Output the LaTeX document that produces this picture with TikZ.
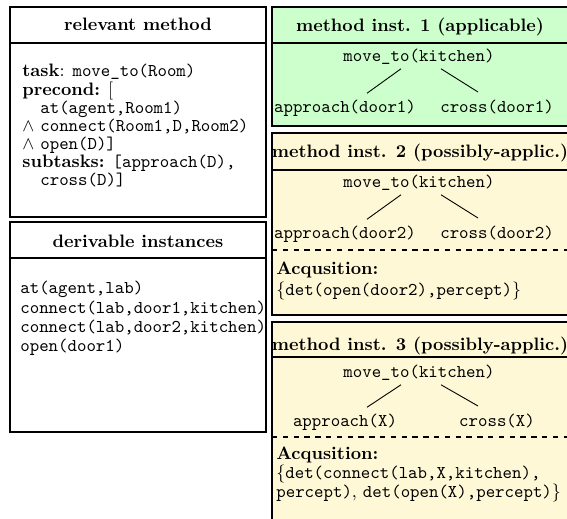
\documentclass[tikz,border=0pt]{standalone}
\usetikzlibrary{calc}
\definecolor{applgreen}{HTML}{CCFFCC}
\definecolor{possyellow}{HTML}{FFF8D6}
\begin{document}
\begin{tikzpicture}[x=0.5556pt,y=-0.5556pt,
  box/.style={draw=black,line width=0.6pt},
  sep/.style={draw=black,line width=0.6pt},
  dsep/.style={draw=black,line width=0.6pt,dashed},
  boxtitle/.style={font=\bfseries,anchor=base,inner sep=0pt},
  ttlabel/.style={font=\ttfamily,anchor=base,inner sep=0pt},
  body/.style={align=left,anchor=north west,inner sep=0pt},
  treeedge/.style={line width=0.5pt}]
\clip (0,0) rectangle (567,518);
% ---------- left column ----------
\draw[box] (10,7) rectangle (266,217);
\draw[sep] (10,43) -- (266,43);
\node[boxtitle] (t1) at (138,30) {relevant method};
\node[body,font=\fontsize{10}{10.1}\selectfont] (b1) at (22,64)
 {\textbf{task}: \texttt{move\_to(Room)}\\
  \textbf{precond:} [\\
  \hspace*{10pt}\texttt{at(agent,Room1)}\\
  $\wedge$ \texttt{connect(Room1,D,Room2)}\\
  $\wedge$ \texttt{open(D)]}\\
  \textbf{subtasks:} \texttt{[approach(D),}\\
  \hspace*{10pt}\texttt{cross(D)]}};
\draw[box] (10,222) rectangle (266,432);
\draw[sep] (10,258) -- (266,258);
\node[boxtitle] (t2) at (138,247) {derivable instances};
\node[body,font=\ttfamily\fontsize{10}{10.7}\selectfont] (b2) at (20,281)
 {at(agent,lab)\\
  connect(lab,door1,kitchen)\\
  connect(lab,door2,kitchen)\\
  open(door1)};
% ---------- right column ----------
% instance 1
\draw[box,fill=applgreen] (272,7) rectangle (580,126);
\draw[sep] (272,43) -- (580,43);
\node[boxtitle] (t3) at (420,31) {method inst. 1 (applicable)};
\node[ttlabel] (m1) at (419,61.5) {move\_to(kitchen)};
\node[ttlabel] (a1) at (345,112.5) {approach(door1)};
\node[ttlabel] (c1) at (497,112.5) {cross(door1)};
\draw[treeedge] ($(m1)+(-18,12)$) -- ($(a1)+(22,-15)$);
\draw[treeedge] ($(m1)+(22,12)$) -- ($(c1)+(-19,-15)$);
% instance 2
\draw[box,fill=possyellow] (272,133) rectangle (580,315);
\draw[sep] (272,170) -- (580,170);
\node[boxtitle] (t4) at (420,157) {method inst. 2 (possibly-applic.)};
\node[ttlabel] (m2) at (419,187.5) {move\_to(kitchen)};
\node[ttlabel] (a2) at (345,238.5) {approach(door2)};
\node[ttlabel] (c2) at (497,238.5) {cross(door2)};
\draw[treeedge] ($(m2)+(-18,12)$) -- ($(a2)+(22,-15)$);
\draw[treeedge] ($(m2)+(22,12)$) -- ($(c2)+(-19,-15)$);
\draw[dsep] (272,250) -- (580,250);
\node[body,font=\fontsize{10}{11.5}\selectfont] (q2) at (276,262)
 {\textbf{Acqusition:}\\
  $\{$\texttt{det(open(door2),percept)}$\}$};
% instance 3
\draw[box,fill=possyellow] (272,322) rectangle (580,560);
\draw[sep] (272,357) -- (580,357);
\node[boxtitle] (t5) at (420,350) {method inst. 3 (possibly-applic.)};
\node[ttlabel] (m3) at (419,377.5) {move\_to(kitchen)};
\node[ttlabel] (a3) at (345,426.5) {approach(X)};
\node[ttlabel] (c3) at (497,426.5) {cross(X)};
\draw[treeedge] ($(m3)+(-18,12)$) -- ($(a3)+(22,-15)$);
\draw[treeedge] ($(m3)+(22,12)$) -- ($(c3)+(-19,-15)$);
\draw[dsep] (272,437) -- (580,437);
\node[body,font=\fontsize{10}{10.5}\selectfont] (q3) at (276,447)
 {\textbf{Acqusition:}\\
  $\{$\texttt{det(connect(lab,X,kitchen),}\\
  \texttt{percept)}, \texttt{det(open(X),percept)}$\}$};
\end{tikzpicture}
\end{document}
